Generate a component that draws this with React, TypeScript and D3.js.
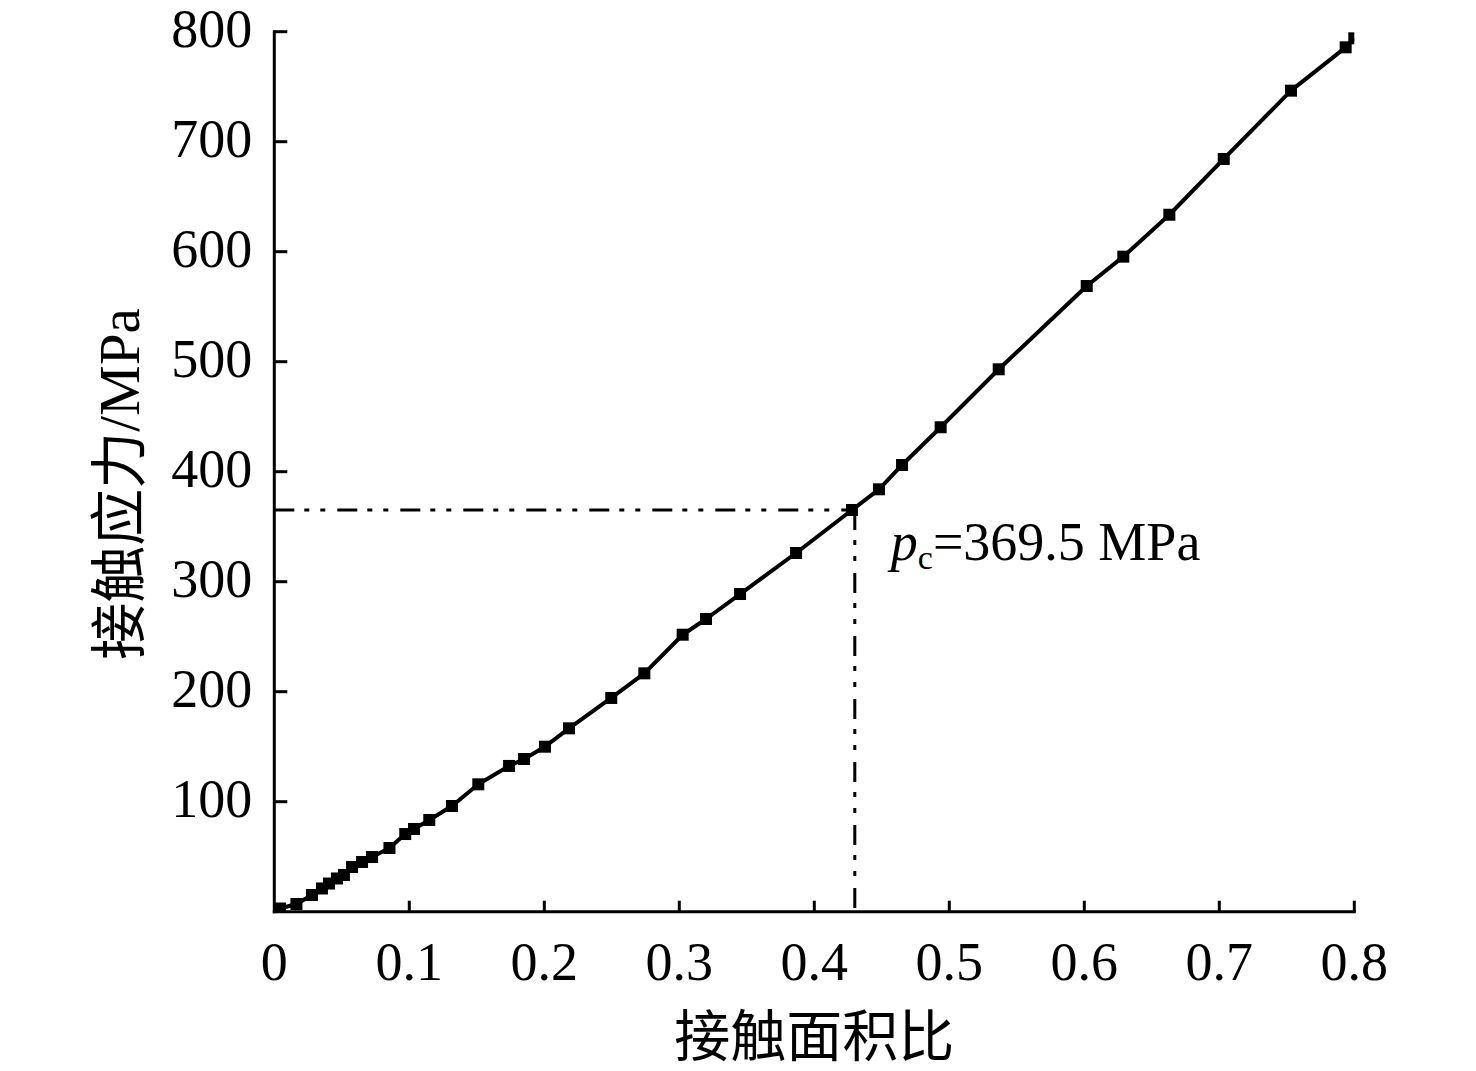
import React, { useRef, useEffect } from "react";
import * as d3 from "d3";

// contact area ratio vs contact stress
const areaRatio = [
  0, 0.0042, 0.0164, 0.0279, 0.0353, 0.0405, 0.0464, 0.0516, 0.0576, 0.065,
  0.0724, 0.0853, 0.097, 0.1035, 0.1148, 0.1316, 0.1511, 0.1739, 0.185,
  0.2005, 0.2183, 0.2496, 0.2741, 0.3025, 0.3198, 0.345, 0.3865, 0.4279,
  0.4479, 0.465, 0.4936, 0.5366, 0.6018, 0.6289, 0.663, 0.7033, 0.7531,
  0.7936, 0.8,
];
const stress = [
  0, 2.9, 7, 15.2, 21.1, 25.6, 30.2, 33.4, 40.6, 45.2, 49.7, 57.9, 70.6,
  75.2, 83.4, 96.1, 115.8, 132.5, 138.8, 150, 166.7, 194.3, 216.7, 251.8,
  266.1, 288.8, 326.1, 365.2, 384, 406.1, 440.4, 493.1, 568.8, 595.5, 633.6,
  684.3, 746.4, 785.8, 794,
];

const xTicks = [0, 0.1, 0.2, 0.3, 0.4, 0.5, 0.6, 0.7, 0.8];
const yTicks = [100, 200, 300, 400, 500, 600, 700, 800];

// critical point p_c
const pcRatio = 0.43;
const pcStress = 365.2;
const pcLabel = "369.5 MPa";

const xTitle = "接触面积比";
const yTitle = "接触应力/MPa";

const width = 1476;
const height = 1071;
const margin = { left: 274.3, right: 121.7, top: 31.7, bottom: 159.3 };

const App: React.FC = () => {
  const svgRef = useRef<SVGSVGElement | null>(null);

  useEffect(() => {
    if (!svgRef.current) return;
    const svg = d3.select(svgRef.current);
    svg.selectAll("*").remove();

    const x = d3
      .scaleLinear()
      .domain([0, 0.8])
      .range([margin.left, width - margin.right]);
    const y = d3
      .scaleLinear()
      .domain([0, 800])
      .range([height - margin.bottom, margin.top]);

    const serif = "'Liberation Serif', 'Times New Roman', serif";
    const cjk = "'Noto Sans CJK SC', sans-serif";

    svg
      .append("defs")
      .append("clipPath")
      .attr("id", "plot-clip")
      .append("rect")
      .attr("x", x(0))
      .attr("y", y(800) - 10)
      .attr("width", x(0.8) - x(0))
      .attr("height", y(0) - y(800) + 10);

    // dash-dot-dot guides to the critical point
    const dash = "20,10,5,11,5,12";
    svg
      .append("line")
      .attr("x1", x(0))
      .attr("x2", x(pcRatio))
      .attr("y1", y(pcStress))
      .attr("y2", y(pcStress))
      .attr("stroke", "#000")
      .attr("stroke-width", 3)
      .attr("stroke-dasharray", dash);
    svg
      .append("line")
      .attr("x1", x(pcRatio))
      .attr("x2", x(pcRatio))
      .attr("y1", y(pcStress))
      .attr("y2", y(0))
      .attr("stroke", "#000")
      .attr("stroke-width", 3)
      .attr("stroke-dasharray", dash);

    // curve
    const pts = areaRatio.map((a, i) => [a, stress[i]] as [number, number]);
    const line = d3
      .line<[number, number]>()
      .x((d) => x(d[0]))
      .y((d) => y(d[1]));
    const g = svg.append("g").attr("clip-path", "url(#plot-clip)");
    g.append("path")
      .attr("d", line(pts) || "")
      .attr("fill", "none")
      .attr("stroke", "#000")
      .attr("stroke-width", 4)
      .attr("stroke-linejoin", "round");

    const s = 12;
    g.selectAll("rect.mk")
      .data(pts.slice(1))
      .enter()
      .append("rect")
      .attr("class", "mk")
      .attr("x", (d) => x(d[0]) - s / 2)
      .attr("y", (d) => y(d[1]) - s / 2)
      .attr("width", s)
      .attr("height", s)
      .attr("fill", "#000");

    // axes
    svg
      .append("line")
      .attr("x1", x(0))
      .attr("x2", x(0))
      .attr("y1", y(800) - 1.5)
      .attr("y2", y(0) + 1.5)
      .attr("stroke", "#000")
      .attr("stroke-width", 3);
    svg
      .append("line")
      .attr("x1", x(0) - 1.5)
      .attr("x2", x(0.8) + 1.5)
      .attr("y1", y(0))
      .attr("y2", y(0))
      .attr("stroke", "#000")
      .attr("stroke-width", 3);

    // y ticks (inward)
    yTicks.forEach((t) => {
      svg
        .append("line")
        .attr("x1", x(0))
        .attr("x2", x(0) + 13)
        .attr("y1", y(t))
        .attr("y2", y(t))
        .attr("stroke", "#000")
        .attr("stroke-width", 3);
      svg
        .append("text")
        .attr("x", x(0) - 22)
        .attr("y", y(t) + 15)
        .attr("text-anchor", "end")
        .attr("font-family", serif)
        .attr("font-size", 54)
        .text(String(t));
    });

    // x ticks (inward)
    xTicks.forEach((t) => {
      if (t > 0) {
        svg
          .append("line")
          .attr("x1", x(t))
          .attr("x2", x(t))
          .attr("y1", y(0))
          .attr("y2", y(0) - 11)
          .attr("stroke", "#000")
          .attr("stroke-width", 3);
      }
      svg
        .append("text")
        .attr("x", x(t))
        .attr("y", y(0) + 68)
        .attr("text-anchor", "middle")
        .attr("font-family", serif)
        .attr("font-size", 54)
        .text(String(t));
    });

    // axis titles
    svg
      .append("text")
      .attr("x", (x(0) + x(0.8)) / 2)
      .attr("y", 1056)
      .attr("text-anchor", "middle")
      .attr("font-family", cjk)
      .attr("font-size", 56)
      .text(xTitle);
    svg
      .append("text")
      .attr("transform", `translate(139,484) rotate(-90)`)
      .attr("text-anchor", "middle")
      .attr("font-family", `${serif}, ${cjk}`)
      .attr("font-size", 57)
      .text(yTitle);

    // p_c annotation
    const lab = svg
      .append("text")
      .attr("x", x(pcRatio) + 36)
      .attr("y", y(pcStress) + 50)
      .attr("font-family", serif)
      .attr("font-size", 54);
    lab.append("tspan").attr("font-style", "italic").text("p");
    lab
      .append("tspan")
      .attr("font-size", 34)
      .attr("dy", 9)
      .text("c");
    lab.append("tspan").attr("dy", -9).text("=" + pcLabel);
  }, []);

  return (
    <div style={{ position: "absolute", left: 0, top: 0 }}>
      <svg
        ref={svgRef}
        width={width}
        height={height}
        style={{ display: "block", background: "#fff" }}
      />
    </div>
  );
};

export default App;
